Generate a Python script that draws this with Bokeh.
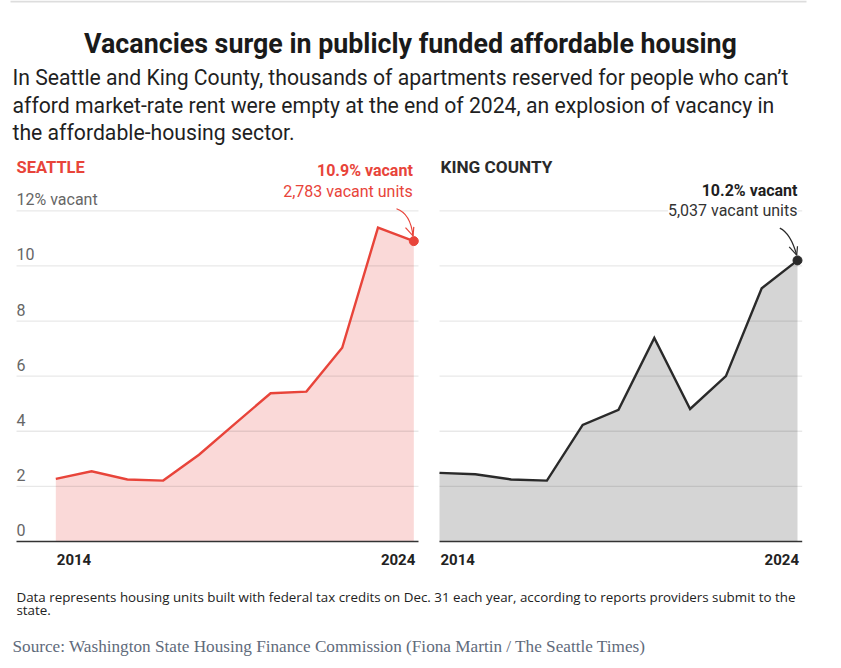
from bokeh.plotting import figure
from bokeh.models import Range1d
from bokeh.core.properties import value
from bokeh.embed import file_html
from bokeh.resources import INLINE

# ---------------- data ----------------
years = list(range(2014, 2025))
seattle = [2.27, 2.55, 2.25, 2.21, 3.15, 4.27, 5.38, 5.44, 7.03, 11.39, 10.9]
king = [2.49, 2.44, 2.25, 2.21, 4.23, 4.78, 7.39, 4.81, 6.0, 9.19, 10.2]
y_ticks = [0, 2, 4, 6, 8, 10, 12]
y_tick_labels = ["0", "2", "4", "6", "8", "10", "12% vacant"]
x_tick_years = [2014, 2024]
x_tick_labels = ["2014", "2024"]
title_text = "Vacancies surge in publicly funded affordable housing"
subtitle_lines = [
    "In Seattle and King County, thousands of apartments reserved for people who can\u2019t",
    "afford market-rate rent were empty at the end of 2024, an explosion of vacancy in",
    "the affordable-housing sector.",
]
panel_titles = ["SEATTLE", "KING COUNTY"]
sea_callout = ["10.9% vacant", "2,783 vacant units"]
kc_callout = ["10.2% vacant", "5,037 vacant units"]
note_lines = [
    "Data represents housing units built with federal tax credits on Dec. 31 each year, according to reports providers submit to the",
    "state.",
]
source_text = "Source: Washington State Housing Finance Commission (Fiona Martin / The Seattle Times)"

# ---------------- layout constants (page pixels) ----------------
W, H = 835, 662
LEFT, TOP = 0, 0
PX_YR = 35.8
SEA_X0 = 55.3
KC_X0 = 439.0
BASE_Y = 541.0
PX_UNIT = (541.0 - 210.3) / 12.0

RED = "#e8443a"
RED_FILL = "#fad9d8"
DARK = "#2a2a2a"
GRAY_FILL = "#d5d5d5"
FONT = "Roboto"

p = figure(width=W, height=H, x_range=Range1d(LEFT, LEFT + W), y_range=Range1d(TOP + H, TOP),
           x_axis_type=None, y_axis_type=None, toolbar_location=None,
           output_backend="svg", min_border=0, outline_line_color=None,
           background_fill_color="white", border_fill_color="white")

p.extra_x_ranges = {
    "sea": Range1d(2014 - (SEA_X0 - LEFT) / PX_YR, 2014 + (LEFT + W - SEA_X0) / PX_YR),
    "kc": Range1d(2014 - (KC_X0 - LEFT) / PX_YR, 2014 + (LEFT + W - KC_X0) / PX_YR),
}
p.extra_y_ranges = {"val": Range1d(-(TOP + H - BASE_Y) / PX_UNIT, (BASE_Y - TOP) / PX_UNIT)}

sea_left = 2014 - (SEA_X0 - 16) / PX_YR
sea_right = 2024 + 4.7 / PX_YR
kc_left = 2014
kc_right = 2024 + 4.7 / PX_YR

# top rule
p.segment(x0=[10], x1=[806], y0=[1], y1=[1], line_color="#dddddd", line_width=2)

# ---------------- panels ----------------
panels = [
    ("sea", seattle, RED, RED_FILL, sea_left, sea_right),
    ("kc", king, DARK, GRAY_FILL, kc_left, kc_right),
]
for rname, vals, lc, fc, gl, gr in panels:
    p.varea(x=years, y1=[0] * len(years), y2=vals, fill_color=fc,
            x_range_name=rname, y_range_name="val")
    grid_vals = y_ticks[1:]
    p.segment(x0=[gl] * len(grid_vals), x1=[gr] * len(grid_vals), y0=grid_vals, y1=grid_vals,
              line_color="black", line_alpha=0.09, line_width=1.3,
              x_range_name=rname, y_range_name="val")
    p.segment(x0=[gl], x1=[gr], y0=[0], y1=[0], line_color="#333333", line_width=1.6,
              x_range_name=rname, y_range_name="val")
    p.line(years, vals, line_color=lc, line_width=2.4, line_join="miter",
           x_range_name=rname, y_range_name="val")
    p.scatter([years[-1]], [vals[-1]], size=9, color=lc,
              x_range_name=rname, y_range_name="val")
    # x tick labels
    p.text(x=[x_tick_years[0]], y=[0], text=[x_tick_labels[0]], text_align="left",
           text_baseline="middle", y_offset=18, x_offset=1,
           text_font=value(FONT), text_font_style="bold", text_font_size="15px",
           text_color="#222222", x_range_name=rname, y_range_name="val")
    p.text(x=[x_tick_years[1]], y=[0], text=[x_tick_labels[1]], text_align="right",
           text_baseline="middle", y_offset=18, x_offset=1.5,
           text_font=value(FONT), text_font_style="bold", text_font_size="15px",
           text_color="#222222", x_range_name=rname, y_range_name="val")

# y tick labels (Seattle panel only)
p.text(x=[sea_left] * len(y_ticks), y=y_ticks, text=y_tick_labels, text_align="left",
       text_baseline="middle", y_offset=-11.5, text_font=value(FONT),
       text_font_size="16px", text_color="#666666", x_range_name="sea", y_range_name="val")

# ---------------- titles ----------------
p.text(x=[410], y=[43], text=[title_text], text_align="center", text_baseline="middle",
       text_font=value(FONT), text_font_style="bold", text_font_size="26.8px", text_color="#1a1a1a")
p.text(x=[12] * 3, y=[77, 104.5, 131.5], text=subtitle_lines, text_align="left",
       text_baseline="middle", text_font=value(FONT), text_font_size="21.2px",
       text_color="#1f1f1f")
p.text(x=[16], y=[166.5], text=[panel_titles[0]], text_baseline="middle",
       text_font=value(FONT), text_font_style="bold", text_font_size="16.5px", text_color=RED)
p.text(x=[440], y=[166.5], text=[panel_titles[1]], text_baseline="middle",
       text_font=value(FONT), text_font_style="bold", text_font_size="17.2px", text_color=DARK)

# ---------------- callouts ----------------
sea_px = SEA_X0 + (years[-1] - 2014) * PX_YR
sea_py = BASE_Y - seattle[-1] * PX_UNIT
kc_px = KC_X0 + (years[-1] - 2014) * PX_YR
kc_py = BASE_Y - king[-1] * PX_UNIT

p.text(x=[sea_px - 1] * 2, y=[sea_py - 71, sea_py - 49.7], text=sea_callout, text_align="right",
       text_baseline="middle", text_font=value(FONT), text_font_style=["bold", "normal"],
       text_font_size="16px", text_color=RED)
p.text(x=[kc_px] * 2, y=[kc_py - 69.6, kc_py - 49.6], text=kc_callout, text_align="right",
       text_baseline="middle", text_font=value(FONT), text_font_style=["bold", "normal"],
       text_font_size="16px", text_color=["#1f1f1f", "#333333"],
       background_fill_color=[None, "white"])

for (px, py, col, dx0, dy0, cdx, cdy) in [
    (sea_px, sea_py, RED, -17.3, -32.4, -3.3, -27.7),
    (kc_px, kc_py, DARK, -17.7, -32.3, -6.7, -27.0),
]:
    tip_x, tip_y = px - 0.8, py - 5.2
    p.quadratic(x0=[px + dx0], y0=[py + dy0], x1=[tip_x], y1=[tip_y],
                cx=[px + cdx], cy=[py + cdy], line_color=col, line_width=1.2)
    p.segment(x0=[tip_x - 7.5, tip_x + 0.8], y0=[tip_y - 8.3, tip_y - 9.0],
              x1=[tip_x, tip_x], y1=[tip_y, tip_y], line_color=col, line_width=1.2)

# ---------------- notes ----------------
p.text(x=[16] * 2, y=[596, 609], text=note_lines, text_align="left", text_baseline="middle",
       text_font=value("Open Sans"), text_font_size="13.35px", text_color="#222222")
p.text(x=[12], y=[645.8], text=[source_text], text_align="left", text_baseline="middle",
       text_font=value("Liberation Serif"), text_font_size="17.2px", text_color="#5f6b7b")

open("out.html", "w").write(file_html(p, INLINE))
